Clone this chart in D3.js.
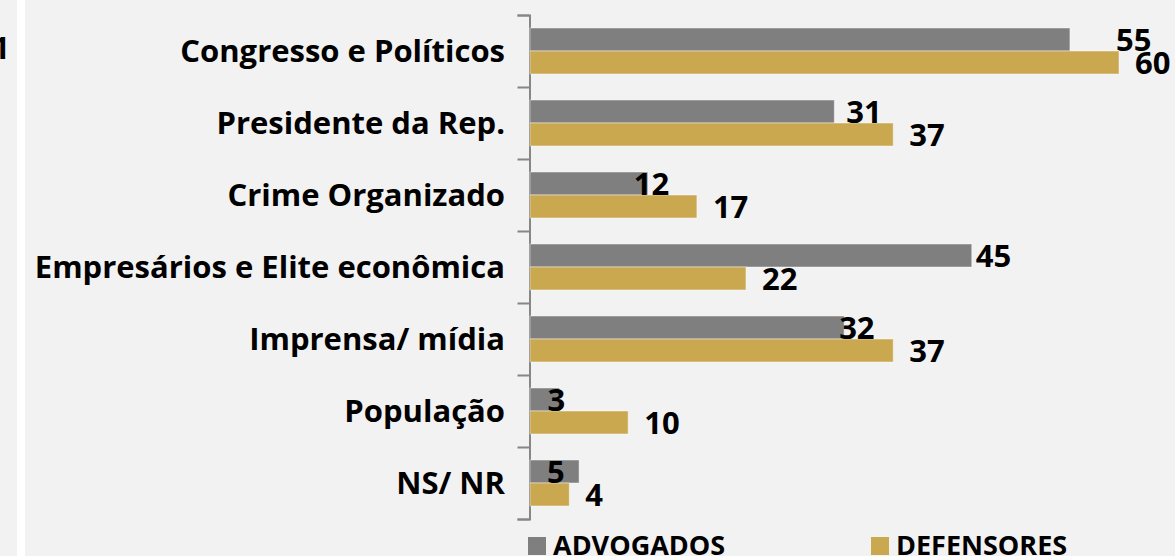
<!DOCTYPE html>
<html>
<head>
<meta charset="utf-8">
<script src="https://cdn.jsdelivr.net/npm/d3@7"></script>
<style>
  html, body { margin: 0; padding: 0; background: #f2f2f2; overflow: hidden; }
  svg { display: block; }
  text { font-family: "Open Sans", Lato, sans-serif; font-weight: 700; fill: #000; }
</style>
</head>
<body>
<svg id="chart" width="1175" height="556"></svg>
<script>
const categories = [
  "Congresso e Políticos",
  "Presidente da Rep.",
  "Crime Organizado",
  "Empresários e Elite econômica",
  "Imprensa/ mídia",
  "População",
  "NS/ NR"
];
const seriesNames = ["ADVOGADOS", "DEFENSORES"];
const advogados = [55, 31, 12, 45, 32, 3, 5];
const defensores = [60, 37, 17, 22, 37, 10, 4];
// manual horizontal nudges of the ADVOGADOS value labels, as placed in the original
const advLabelNudge = [46, 12, -14, 4, -5, -12, -32];
const defLabelNudge = [16, 16, 16, 16, 16, 16, 16];

const colors = { ADVOGADOS: "#7f7f7f", DEFENSORES: "#c9a850" };
const FONT = 31;

const svg = d3.select("#chart");
svg.append("rect").attr("width", 1175).attr("height", 556).attr("fill", "#f2f2f2");
svg.append("rect").attr("x", 17).attr("y", 0).attr("width", 8).attr("height", 556).attr("fill", "#ffffff");

// stray label cut at left edge
svg.append("text").attr("x", 10).attr("y", 59).attr("text-anchor", "end")
  .style("font-size", FONT + "px").text("1");

const x = d3.scaleLinear().domain([0, 60]).range([530, 1119]);
const y = d3.scaleBand().domain(categories).range([15, 519]).padding(0);
const ys = d3.scaleBand().domain(seriesNames).range([0, y.bandwidth()])
  .paddingInner(0).paddingOuter(0.565);

// axis with ticks at band boundaries
const yb = d3.scaleLinear().domain([0, categories.length]).range([15, 519]);
const axisG = svg.append("g").attr("transform", "translate(529.5,0)")
  .call(d3.axisLeft(yb).tickValues(d3.range(categories.length + 1))
    .tickFormat("").tickSize(12).tickSizeOuter(12));
axisG.selectAll("path, line").attr("stroke", "#868686").attr("stroke-width", 2);

// category labels
svg.append("g").selectAll("text").data(categories).join("text")
  .attr("x", 505)
  .attr("y", d => y(d) + y.bandwidth() / 2)
  .attr("dy", "0.36em")
  .attr("text-anchor", "end")
  .style("font-size", FONT + "px")
  .text(d => d);

const rows = categories.map((c, i) => ({
  cat: c,
  vals: [
    { s: "ADVOGADOS", v: advogados[i], nudge: advLabelNudge[i] },
    { s: "DEFENSORES", v: defensores[i], nudge: defLabelNudge[i] }
  ]
}));

const groups = svg.append("g").selectAll("g").data(rows).join("g")
  .attr("transform", d => `translate(0,${y(d.cat)})`);

groups.selectAll("rect").data(d => d.vals).join("rect")
  .attr("x", x(0))
  .attr("y", d => ys(d.s))
  .attr("width", d => x(d.v) - x(0))
  .attr("height", ys.bandwidth())
  .attr("fill", d => colors[d.s])
  .attr("stroke", "rgba(255,255,255,0.45)")
  .attr("stroke-width", 1);

groups.selectAll("text").data(d => d.vals).join("text")
  .attr("x", d => x(d.v) + d.nudge)
  .attr("y", d => ys(d.s) + ys.bandwidth() / 2)
  .attr("dy", "0.36em")
  .style("font-size", FONT + "px")
  .text(d => d.v);

// legend
const legendX = { ADVOGADOS: 528, DEFENSORES: 871 };
const lg = svg.append("g").selectAll("g").data(seriesNames).join("g")
  .attr("transform", d => `translate(${legendX[d]},537)`);
lg.append("rect").attr("width", 18).attr("height", 18).attr("fill", d => colors[d]);
lg.append("text").attr("x", 25).attr("y", 18).style("font-size", "27px").text(d => d);
</script>
</body>
</html>
